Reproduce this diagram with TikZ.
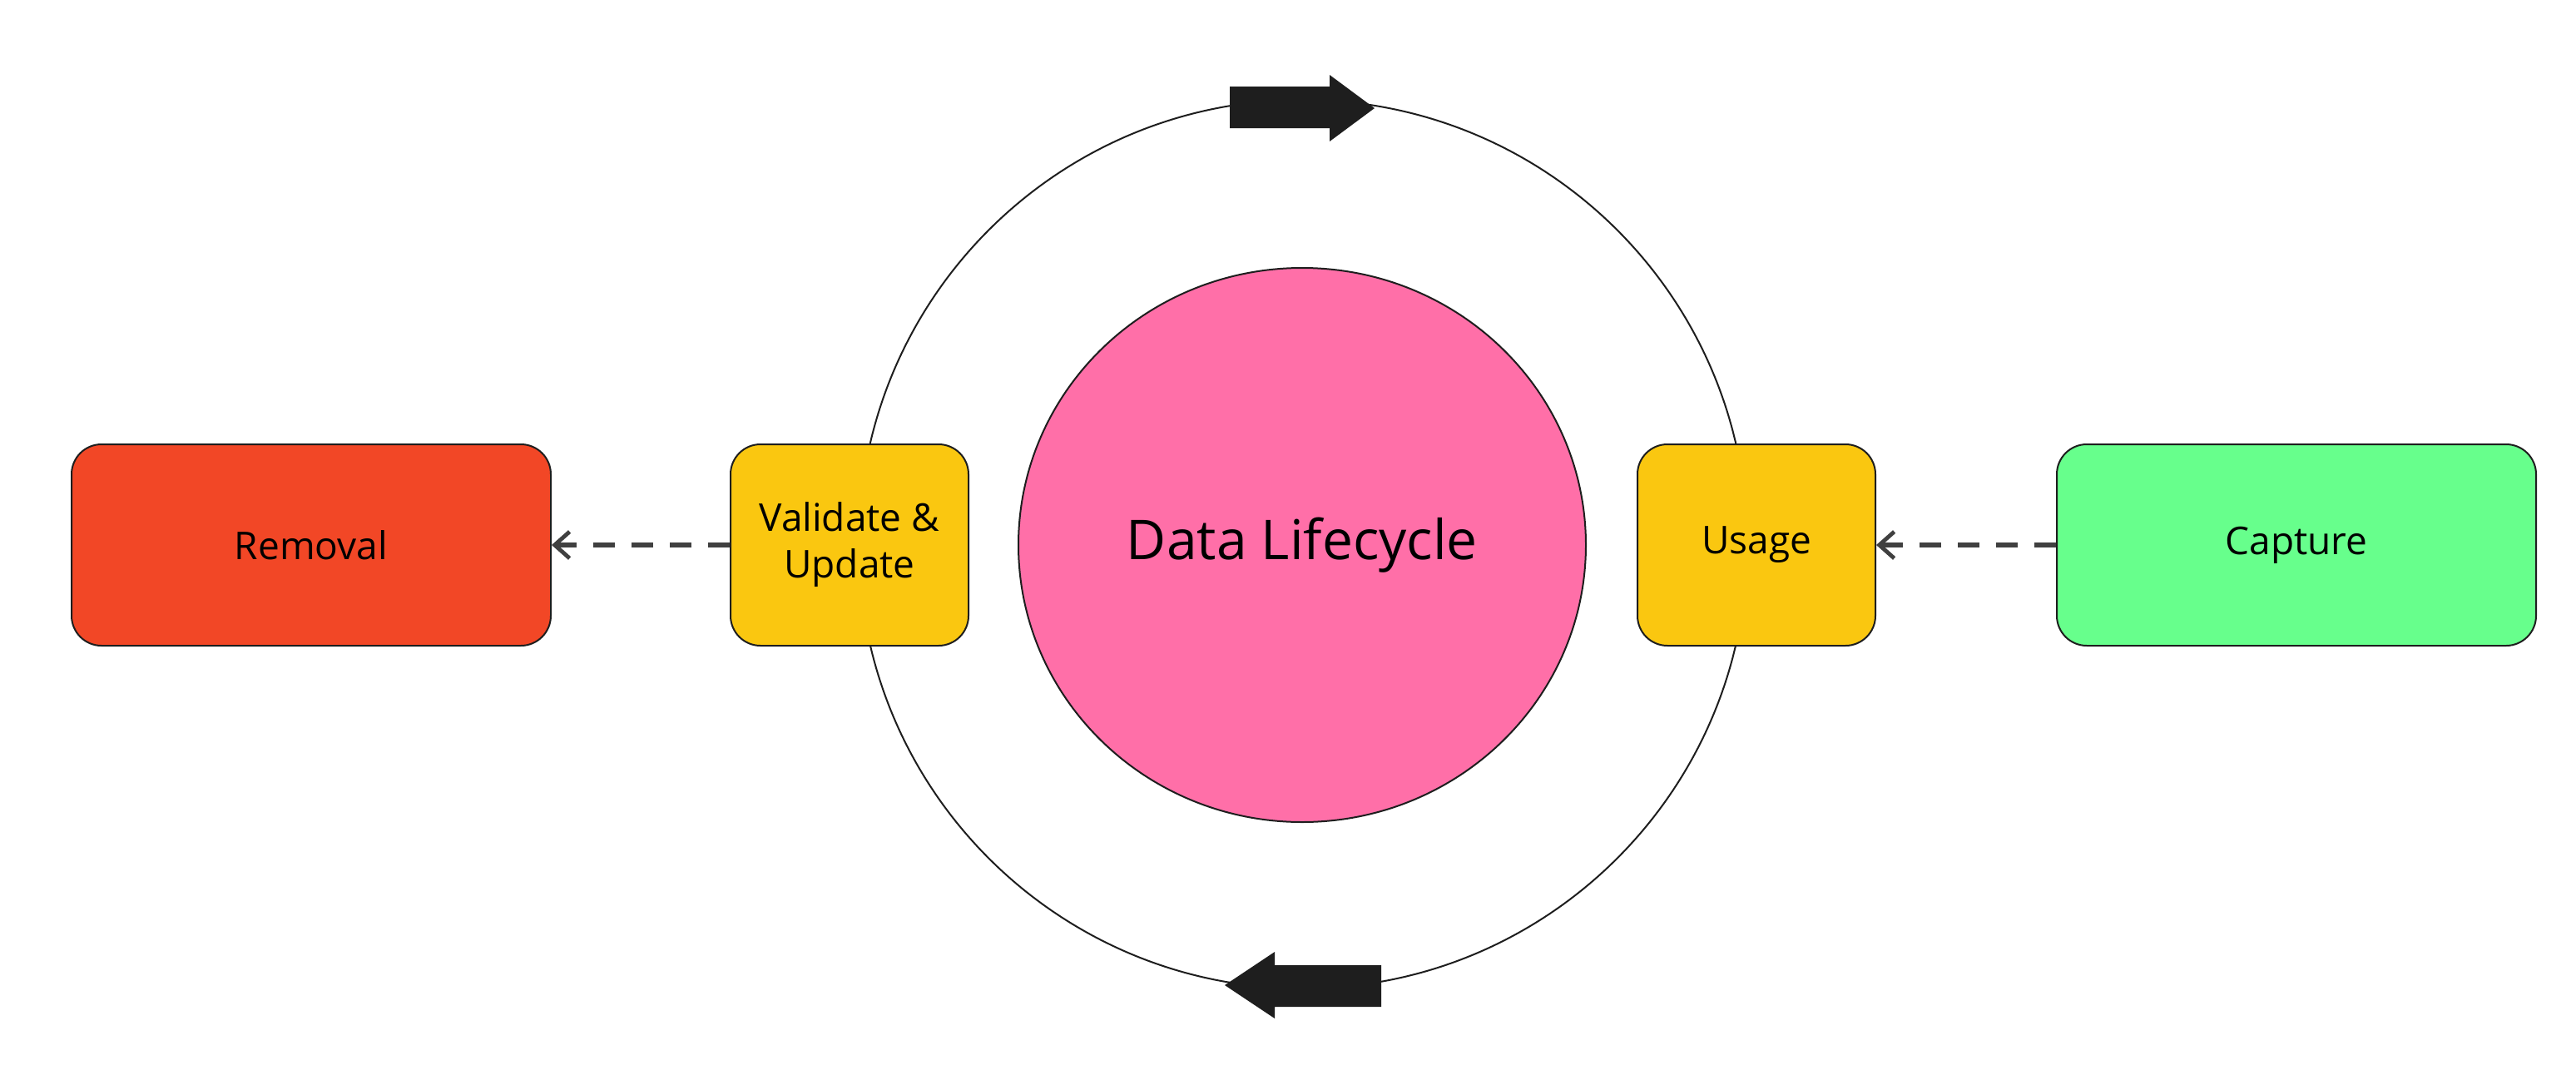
\documentclass[tikz,border=0pt]{standalone}
\usepackage{fontspec}
\setmainfont{Open Sans}
\usetikzlibrary{arrows.meta,shapes.geometric}
\definecolor{yel}{HTML}{FAC710}
\definecolor{pinkc}{HTML}{FF6FA8}
\definecolor{redc}{HTML}{F24726}
\definecolor{greenc}{HTML}{67FF8C}
\definecolor{dark}{HTML}{1E1E1E}
\begin{document}
\begin{tikzpicture}[x=1pt,y=-1pt,
  box/.style={draw=dark,line width=1pt,rounded corners=18pt,inner sep=0pt,font=\fontsize{23}{28}\selectfont,align=center},
  dasharrow/.style={draw=dark!85,line width=3pt,dash pattern=on 13pt off 10pt,-{Straight Barb[length=9pt,width=16pt,line width=2.4pt]}}]
\useasboundingbox (0,0) rectangle (1548,645.5);
\fill[white] (0,0) rectangle (1548,645.5);
\draw[dark,line width=1pt] (783,327) circle (267);
\node[ellipse,draw=dark,line width=1pt,fill=pinkc,minimum width=341pt,minimum height=333pt,inner sep=0pt,font=\fontsize{33}{40}\selectfont] (dl) at (782.5,327.5) {Data Lifecycle};
\node[box,fill=yel,minimum width=143pt,minimum height=121pt] (val) at (510.5,327.5) {Validate \&\\Update};
\node[box,fill=yel,minimum width=143pt,minimum height=121pt] (use) at (1055.5,327.5) {Usage};
\node[box,fill=redc,minimum width=288pt,minimum height=121pt] (rem) at (187,327.5) {Removal};
\node[box,fill=greenc,minimum width=288pt,minimum height=121pt] (cap) at (1380,327.5) {Capture};
\draw[dasharrow] (val.west) -- (rem.east);
\draw[dasharrow] (cap.west) -- (use.east);
\fill[dark] (739,52) -- (799,52) -- (799,45) -- (826,65) -- (799,85) -- (799,77) -- (739,77) -- cycle;
\fill[dark] (830,580) -- (766,580) -- (766,572) -- (736,592) -- (766,612) -- (766,605) -- (830,605) -- cycle;
\end{tikzpicture}
\end{document}
